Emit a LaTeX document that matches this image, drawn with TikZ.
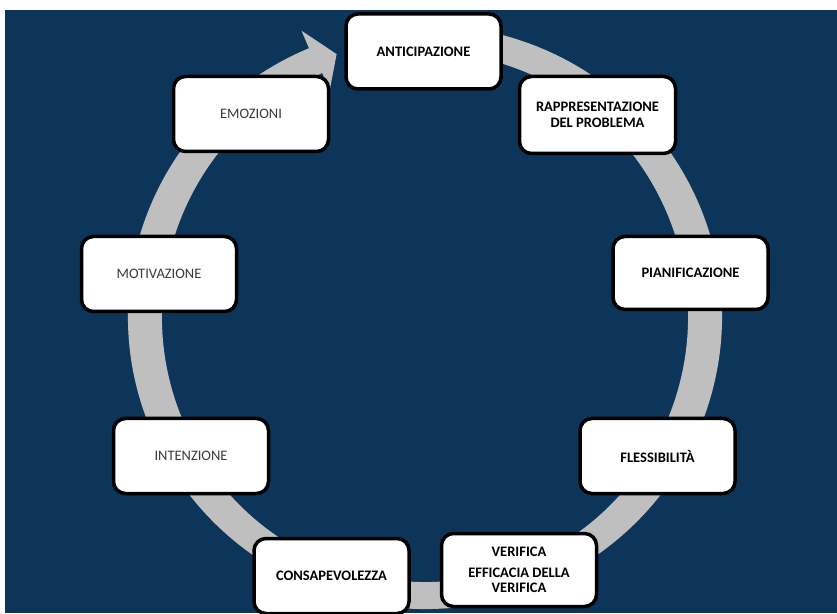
\documentclass[tikz,border=0pt]{standalone}
\usepackage{fontspec}
\setmainfont{Carlito}
\definecolor{bgblue}{HTML}{0C3559}
\definecolor{ringgray}{HTML}{BFBFBF}
\definecolor{plaintext}{HTML}{3A3A3A}
\begin{document}
\begin{tikzpicture}[x=1pt,y=1pt,
  box/.style={draw=black, line width=3.5pt, fill=white, rounded corners=12pt,
    minimum width=155pt, minimum height=75pt, align=center, inner sep=0pt},
  boldtext/.style={font=\fontsize{14.5}{15.5}\selectfont\bfseries, text=black},
  plaintxt/.style={font=\fontsize{14.5}{15.5}\selectfont, text=plaintext}]
\useasboundingbox (0,0) rectangle (837,613);
\fill[white] (0,0) rectangle (837,613);
\fill[bgblue] (5,0) rectangle (837,603);
% circular arrow
\begin{scope}[shift={(425,296)}]
  \fill[ringgray] (80:297 and 292)
    arc[start angle=80, end angle=-247, x radius=297, y radius=292]
    -- (113:316 and 311) -- (108.4:280 and 277) -- (113:244 and 246)
    -- (113:263 and 265)
    arc[start angle=-247, end angle=80, x radius=263, y radius=265]
    -- cycle;
\end{scope}
% boxes
\node[box,boldtext] (antic) at (423.5,561.5) {ANTICIPAZIONE};
\node[box,boldtext,minimum width=156pt,minimum height=77pt] (rappr) at (597.5,498) {RAPPRESENTAZIONE\\DEL PROBLEMA};
\node[box,plaintxt] (emoz) at (251,499) {EMOZIONI};
\node[box,plaintxt] (motiv) at (159,339) {MOTIVAZIONE};
\node[box,boldtext,minimum height=73pt] (pianif) at (690.5,340) {PIANIFICAZIONE};
\node[box,plaintxt] (intenz) at (191,157) {INTENZIONE};
\node[box,boldtext] (fless) at (657.5,157) {FLESSIBILITÀ};
\node[box,boldtext] (consap) at (331.5,37) {CONSAPEVOLEZZA};
\node[box,boldtext,minimum height=73pt] (verif) at (519,43) {VERIFICA\\[5pt]EFFICACIA DELLA\\VERIFICA};
\end{tikzpicture}
\end{document}
